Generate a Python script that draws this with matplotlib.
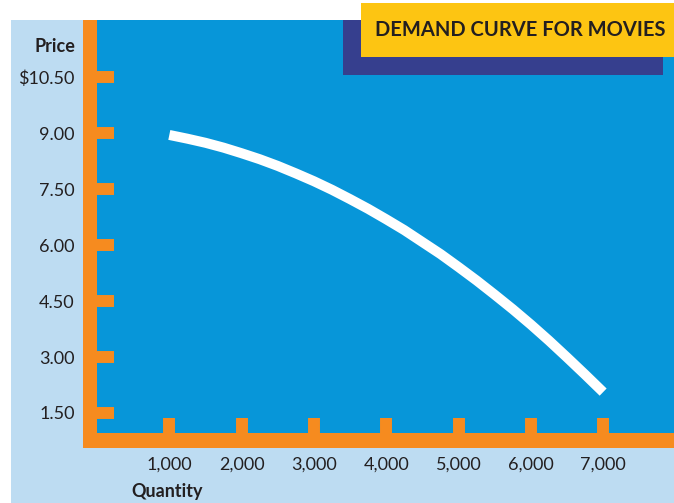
import matplotlib
matplotlib.use("Agg")
import matplotlib.pyplot as plt
from matplotlib.patches import Rectangle

# ---- data ----
quantity = [1000, 1250, 1500, 1750, 2000, 2250, 2500, 2750, 3000, 3250, 3500,
            3750, 4000, 4250, 4500, 4750, 5000, 5250, 5500, 5750, 6000, 6250,
            6500, 6750, 7000]
price    = [8.95, 8.85, 8.74, 8.61, 8.46, 8.30, 8.12, 7.92, 7.71, 7.48, 7.23,
            6.97, 6.69, 6.40, 6.08, 5.76, 5.41, 5.05, 4.67, 4.28, 3.87, 3.44,
            2.99, 2.53, 2.06]

x_ticks  = [1000, 2000, 3000, 4000, 5000, 6000, 7000]
x_labels = ["1,000", "2,000", "3,000", "4,000", "5,000", "6,000", "7,000"]
y_ticks  = [1.5, 3.0, 4.5, 6.0, 7.5, 9.0, 10.5]
y_labels = ["1.50", "3.00", "4.50", "6.00", "7.50", "9.00", "$10.50"]

TITLE = "DEMAND CURVE FOR MOVIES"

# ---- style ----
BLUE   = "#0796D9"
LIGHT  = "#BDDCF2"
ORANGE = "#F68B1F"
YELLOW = "#FDC512"
NAVY   = "#363F8E"
TEXT   = "#231F20"
FONT   = ["Lato", "DejaVu Sans"]

W, H = 674, 503
plt.rcParams["font.family"] = FONT

fig = plt.figure(figsize=(W / 100, H / 100), dpi=100)
fig.patch.set_facecolor("white")


def box(x0, y0, x1, y1):
    """pixel box (top-left origin) -> figure-fraction rectangle args"""
    return (x0 / W, 1 - y1 / H), (x1 - x0) / W, (y1 - y0) / H


def add_rect(x0, y0, x1, y1, color, z):
    xy, w, h = box(x0, y0, x1, y1)
    fig.add_artist(Rectangle(xy, w, h, transform=fig.transFigure,
                             facecolor=color, edgecolor="none", zorder=z))


# light blue panel behind everything
add_rect(11, 20, 674, 503, LIGHT, -10)

xy, w, h = box(97, 20, 674, 433)
ax = fig.add_axes([xy[0], xy[1], w, h])
ax.set_facecolor(BLUE)
for sp in ax.spines.values():
    sp.set_visible(False)

ax.plot(quantity, price, color="white", lw=7.2, solid_capstyle="butt",
        solid_joinstyle="round", zorder=5)

ax.set_xlim(0, 7980)
ax.set_ylim(0.964, 12.03)

ax.set_xticks(x_ticks)
ax.set_xticklabels(x_labels)
ax.set_yticks(y_ticks)
ax.set_yticklabels(y_labels)
ax.tick_params(axis="x", direction="in", length=10.8, width=8.6, color=ORANGE,
               pad=17, labelsize=13, labelcolor=TEXT)
ax.tick_params(axis="y", direction="in", length=12.5, width=8.6, color=ORANGE,
               pad=16, labelsize=13, labelcolor=TEXT)

# orange axis bars
add_rect(83, 20, 97, 448, ORANGE, 3)
add_rect(83, 433, 674, 448, ORANGE, 3)

# title badge
add_rect(343, 20, 663, 75, NAVY, 4)
add_rect(361, 3, 674, 57, YELLOW, 5)
fig.text(520 / W, 1 - 30 / H, TITLE, ha="center", va="center", fontsize=14.5,
         fontweight="bold", color=TEXT, zorder=6)

# axis titles
fig.text(75 / W, 1 - 47 / H, "Price", ha="right", va="center", fontsize=13,
         fontweight="bold", color=TEXT)
fig.text(131 / W, 1 - 491 / H, "Quantity", ha="left", va="center", fontsize=13,
         fontweight="bold", color=TEXT)

fig.savefig("out.png", dpi=100)
